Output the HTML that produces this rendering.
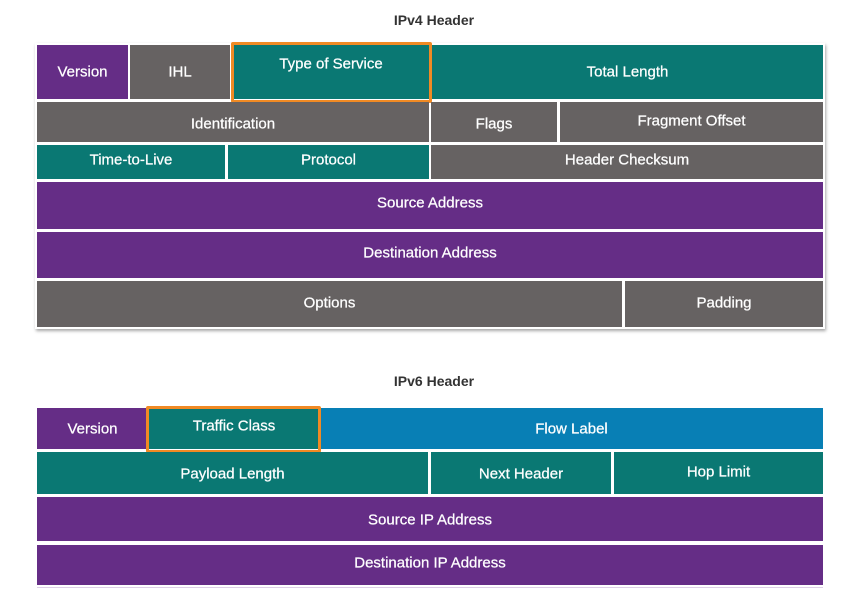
<!DOCTYPE html>
<html><head><meta charset="utf-8"><style>
body{margin:0;width:868px;height:600px;background:#fff;position:relative;overflow:hidden;font-family:"Liberation Sans",Arial,sans-serif}
.b{position:absolute;color:#fff;font-size:15px;text-align:center;box-sizing:border-box;-webkit-text-stroke:0.25px #fff}
.b span{position:absolute;left:0;right:0;transform:translateY(-50%)}
.p{background:#652d86}.g{background:#666262}.t{background:#0a7873}.bl{background:#087fb5}
.o{position:absolute;border:3px solid #f08a24;box-sizing:border-box;border-radius:2px}
.h{position:absolute;left:0;width:868px;text-align:center;font-weight:bold;font-size:14px;color:#333}
.sh{position:absolute;background:#fff;box-shadow:1px 2px 3px rgba(0,0,0,.35)}
</style></head><body>
<div class="h" style="top:12px">IPv4 Header</div>
<div class="sh" style="left:35px;top:43px;width:790px;height:286px"></div>
<div class="b p" style="left:37px;top:45px;width:91px;height:54px"><span style="top:27px">Version</span></div>
<div class="b g" style="left:130px;top:45px;width:100px;height:54px"><span style="top:27px">IHL</span></div>
<div class="b t" style="left:232px;top:45px;width:198px;height:54px"><span style="top:19px">Type of Service</span></div>
<div class="b t" style="left:432px;top:45px;width:391px;height:54px"><span style="top:27px">Total Length</span></div>
<div class="o" style="left:231px;top:42px;width:201px;height:61px"></div>
<div class="b g" style="left:37px;top:102px;width:392px;height:40px"><span style="top:22px">Identification</span></div>
<div class="b g" style="left:431px;top:102px;width:126px;height:40px"><span style="top:22px">Flags</span></div>
<div class="b g" style="left:560px;top:102px;width:263px;height:40px"><span style="top:19px">Fragment Offset</span></div>
<div class="b t" style="left:37px;top:145px;width:188px;height:34px"><span style="top:15px">Time-to-Live</span></div>
<div class="b t" style="left:228px;top:145px;width:201px;height:34px"><span style="top:15px">Protocol</span></div>
<div class="b g" style="left:431px;top:145px;width:392px;height:34px"><span style="top:15px">Header Checksum</span></div>
<div class="b p" style="left:37px;top:182px;width:786px;height:47px"><span style="top:21px">Source Address</span></div>
<div class="b p" style="left:37px;top:232px;width:786px;height:46px"><span style="top:21px">Destination Address</span></div>
<div class="b g" style="left:37px;top:281px;width:585px;height:46px"><span style="top:22px">Options</span></div>
<div class="b g" style="left:625px;top:281px;width:198px;height:46px"><span style="top:22px">Padding</span></div>

<div class="h" style="top:373px">IPv6 Header</div>
<div class="b p" style="left:37px;top:408px;width:111px;height:41px"><span style="top:21px">Version</span></div>
<div class="b t" style="left:148px;top:408px;width:172px;height:41px"><span style="top:18px">Traffic Class</span></div>
<div class="b bl" style="left:320px;top:408px;width:503px;height:41px"><span style="top:21px">Flow Label</span></div>
<div class="o" style="left:146px;top:406px;width:175px;height:47px"></div>
<div class="b t" style="left:37px;top:452px;width:391px;height:42px"><span style="top:22px">Payload Length</span></div>
<div class="b t" style="left:431px;top:452px;width:180px;height:42px"><span style="top:22px">Next Header</span></div>
<div class="b t" style="left:614px;top:452px;width:209px;height:42px"><span style="top:20px">Hop Limit</span></div>
<div class="b p" style="left:37px;top:497px;width:786px;height:44px"><span style="top:23px">Source IP Address</span></div>
<div class="b p" style="left:37px;top:545px;width:786px;height:40px"><span style="top:18px">Destination IP Address</span></div>
<div style="position:absolute;left:37px;top:587px;width:786px;height:1px;background:#ddd0e6"></div>
</body></html>
